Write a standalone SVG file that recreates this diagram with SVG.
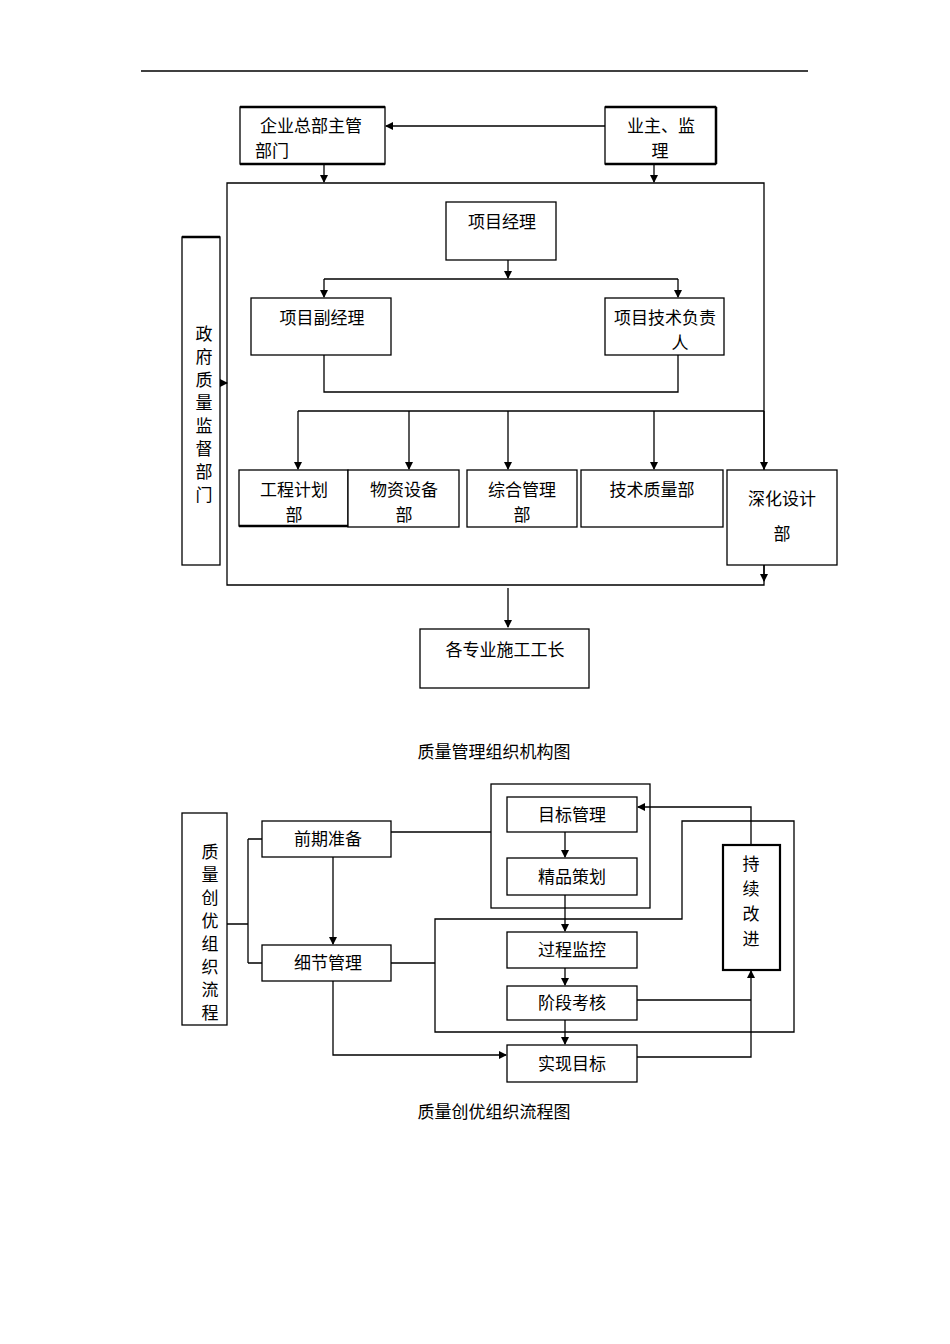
<svg xmlns="http://www.w3.org/2000/svg" width="950" height="1344" viewBox="0 0 950 1344">
<style>
text{font-family:"Noto Sans CJK SC",sans-serif;font-size:17px;fill:#000;text-anchor:middle}
.b{fill:#fff;stroke:#000;stroke-width:1.3}
.l{fill:none;stroke:#000;stroke-width:1.3}
.a{fill:none;stroke:#000;stroke-width:1.3;marker-end:url(#ar)}
</style>
<defs><marker id="ar" markerWidth="8" markerHeight="8" refX="7" refY="4" orient="auto" markerUnits="userSpaceOnUse"><path d="M0,0L8,4L0,8z" fill="#000"/></marker></defs>
<rect width="950" height="1344" fill="#fff"/>
<line x1="141" y1="71" x2="808" y2="71" stroke="#000" stroke-width="1.3"/>
<g id="connectors">
<path class="a" d="M605,126H386"/>
<path class="a" d="M324,164V182"/>
<path class="a" d="M654,164V182"/>
<path class="l" d="M227,183H764V585H227Z"/>
<path class="a" d="M220,383H227"/>
<path class="a" d="M508,260V278"/>
<path class="l" d="M324,279H678"/>
<path class="a" d="M324,279V297"/>
<path class="a" d="M678,279V297"/>
<path class="l" d="M324,355V392H678V355"/>
<path class="l" d="M298,411H764"/>
<path class="a" d="M298,411V469"/>
<path class="a" d="M409,411V469"/>
<path class="a" d="M508,411V469"/>
<path class="a" d="M654,411V469"/>
<path class="a" d="M764,411V469"/>
<path class="a" d="M764,565V581"/>
<path class="a" d="M508,588V627"/>
<path class="l" d="M227,924H248M248,839V963M248,839H262M248,963H262"/>
<path class="l" d="M391,832H491"/>
<path class="l" d="M391,963H435"/>
<path class="l" d="M435,919H682V821H794V1032H435Z"/>
<path class="a" d="M333,857V944"/>
<path class="a" d="M333,981V1055H506"/>
<path class="a" d="M565,832V857"/>
<path class="a" d="M565,895V931"/>
<path class="a" d="M565,968V985"/>
<path class="a" d="M565,1020V1044"/>
<path class="a" d="M751,845V807H638"/>
<path class="l" d="M637,1000H751"/>
<path class="a" d="M637,1057H751V971"/>
</g>
<g id="n1"><rect class="b" x="240" y="107" width="145" height="57"/><path class="l" stroke-width="2.5" d="M240,107H385M240,164H385" style="stroke-width:2.5"/><text x="311" y="132">企业总部主管</text><text x="272" y="157">部门</text></g>
<g id="n2"><rect class="b" x="605" y="107" width="111" height="57"/><path class="l" d="M605,107H716M605,164H716M716,107V164" style="stroke-width:2.5"/><text x="661" y="132">业主、监</text><text x="660" y="157">理</text></g>
<g id="n3"><rect class="b" x="182" y="237" width="38" height="328"/><path class="l" d="M182,237H220" style="stroke-width:2.5"/><text x="204" y="340">政</text><text x="204" y="363">府</text><text x="204" y="386">质</text><text x="204" y="409">量</text><text x="204" y="432">监</text><text x="204" y="455">督</text><text x="204" y="478">部</text><text x="204" y="501">门</text></g>
<g id="n4"><rect class="b" x="446" y="202" width="110" height="58"/><text x="502" y="228">项目经理</text></g>
<g id="n5"><rect class="b" x="251" y="298" width="140" height="57"/><text x="322" y="324">项目副经理</text></g>
<g id="n6"><rect class="b" x="605" y="298" width="119" height="57"/><text x="665" y="324">项目技术负责</text><text x="680" y="349">人</text></g>
<g id="n7"><rect class="b" x="239" y="470" width="109" height="56"/><path class="l" d="M239,526H348" style="stroke-width:2.5"/><text x="294" y="496">工程计划</text><text x="294" y="521">部</text></g>
<g id="n8"><rect class="b" x="348" y="470" width="111" height="57"/><text x="404" y="496">物资设备</text><text x="404" y="521">部</text></g>
<g id="n9"><rect class="b" x="467" y="470" width="110" height="57"/><text x="522" y="496">综合管理</text><text x="522" y="521">部</text></g>
<g id="n10"><rect class="b" x="581" y="470" width="142" height="57"/><text x="652" y="496">技术质量部</text></g>
<g id="n11"><rect class="b" x="727" y="470" width="110" height="95"/><text x="782" y="505">深化设计</text><text x="782" y="540">部</text></g>
<g id="n12"><rect class="b" x="420" y="629" width="169" height="59"/><text x="505" y="656">各专业施工工长</text></g>
<text x="494" y="758">质量管理组织机构图</text>
<g id="m1"><rect class="b" x="182" y="813" width="45" height="212"/><text x="210" y="858">质</text><text x="210" y="881">量</text><text x="210" y="904">创</text><text x="210" y="927">优</text><text x="210" y="950">组</text><text x="210" y="973">织</text><text x="210" y="996">流</text><text x="210" y="1019">程</text></g>
<g id="m2"><rect class="b" x="262" y="821" width="129" height="36"/><text x="328" y="845">前期准备</text></g>
<g id="m3"><rect class="b" x="262" y="945" width="129" height="36"/><text x="328" y="969">细节管理</text></g>
<g id="m4"><rect class="l" x="491" y="784" width="159" height="124"/></g>
<g id="m5"><rect class="b" x="507" y="797" width="130" height="35"/><text x="572" y="821">目标管理</text></g>
<g id="m6"><rect class="b" x="507" y="858" width="130" height="37"/><text x="572" y="883">精品策划</text></g>
<g id="m7"><rect class="b" x="507" y="932" width="130" height="36"/><text x="572" y="956">过程监控</text></g>
<g id="m8"><rect class="b" x="507" y="986" width="130" height="34"/><text x="572" y="1009">阶段考核</text></g>
<g id="m9"><rect class="b" x="507" y="1045" width="130" height="37"/><text x="572" y="1070">实现目标</text></g>
<g id="m10"><rect class="b" x="723" y="845" width="57" height="125" style="stroke-width:2.2"/><text x="751" y="870">持</text><text x="751" y="895">续</text><text x="751" y="920">改</text><text x="751" y="945">进</text></g>
<text x="494" y="1118">质量创优组织流程图</text>
</svg>
